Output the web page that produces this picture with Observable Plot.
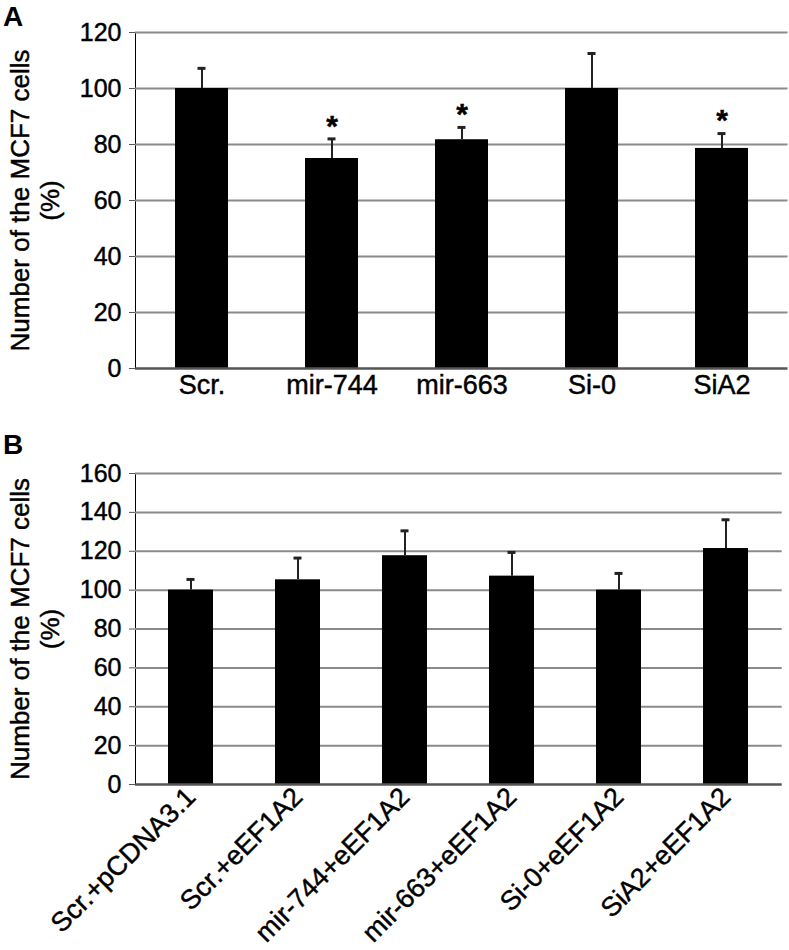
<!DOCTYPE html>
<html><head><meta charset="utf-8">
<script src="https://cdn.jsdelivr.net/npm/d3@7"></script>
<script src="https://cdn.jsdelivr.net/npm/@observablehq/plot@0.6"></script>
<style>
body{margin:0;background:#fff;}
#wrap{position:relative;width:789px;height:950px;font-family:"Liberation Sans",Arial,sans-serif;overflow:hidden;}
.panel{position:absolute;left:0;}
.letter{position:absolute;font-weight:bold;font-size:28px;line-height:1;}
svg text{stroke:#000;stroke-width:0.45px;}
</style></head><body>
<div id="wrap">
<div id="pa" class="panel" style="top:0"></div>
<div id="pb" class="panel" style="top:432px"></div>
<div class="letter" style="left:3px;top:3px">A</div>
<div class="letter" style="left:3px;top:431px">B</div>
</div>
<script>
const catsA = ["Scr.", "mir-744", "mir-663", "Si-0", "SiA2"];
const meansA = [100, 75, 81.7, 100, 78.6];
const errTopA = [107.2, 82, 86.1, 112.5, 83.9];
const starA = [false, true, true, false, true];
const yTicksA = [0, 20, 40, 60, 80, 100, 120];

const catsB = ["Scr.+pCDNA3.1", "Scr.+eEF1A2", "mir-744+eEF1A2", "mir-663+eEF1A2", "Si-0+eEF1A2", "SiA2+eEF1A2"];
const meansB = [100, 105.3, 117.7, 107.2, 100, 121.4];
const errTopB = [105.5, 116.5, 130.5, 119.4, 108.6, 136.2];
const yTicksB = [0, 20, 40, 60, 80, 100, 120, 140, 160];

const yLabel1 = "Number of the MCF7 cells";
const yLabel2 = "(%)";

const FONT = "'Liberation Sans', Arial, sans-serif";
const GRID = "#8a8a8a";

function panel(cats, means, errs, stars, yTicks, opts) {
  const data = cats.map((c, i) => ({cat: c, mean: means[i], err: errs[i], star: stars ? stars[i] : false}));
  return Plot.plot({
    width: 789,
    height: opts.height,
    marginLeft: 135,
    marginRight: opts.marginRight,
    marginTop: opts.marginTop,
    marginBottom: opts.marginBottom,
    style: {fontFamily: FONT, fontSize: "25px", color: "#000", background: "#fff", overflow: "visible"},
    x: {domain: cats, paddingInner: opts.padInner, paddingOuter: opts.padInner / 2, align: 0.5,
        tickSize: 0, tickPadding: opts.xTickPadding, tickRotate: opts.tickRotate || 0, label: null},
    y: {domain: [yTicks[0], yTicks[yTicks.length - 1]], ticks: yTicks, tickSize: 6, tickPadding: 8,
        label: null, line: true, tickFormat: d => String(d)},
    marks: [
      Plot.ruleY(yTicks.slice(1), {stroke: GRID, strokeWidth: 2}),
      Plot.barY(data, {x: "cat", y: "mean", fill: "#000"}),
      Plot.ruleX(data, {x: "cat", y1: "mean", y2: "err", stroke: "#222", strokeWidth: 2}),
      Plot.tickY(data, {x: "cat", y: "err", stroke: "#222", strokeWidth: 3, insetLeft: opts.capInset, insetRight: opts.capInset}),
      Plot.text(data.filter(d => d.star), {x: "cat", y: "err", text: () => "*", fontSize: 30, fontWeight: "bold", dy: -13, fill: "#000"}),
      Plot.ruleY([0], {stroke: "#555", strokeWidth: 2.5}),
      Plot.text([yLabel1], {frameAnchor: "left", textAnchor: "middle", rotate: -90, dx: -115, fontSize: 26, fill: "#000"}),
      Plot.text([yLabel2], {frameAnchor: "left", textAnchor: "middle", rotate: -90, dx: -85, fontSize: 26, fill: "#000"})
    ]
  });
}

const a = panel(catsA, meansA, errTopA, starA, yTicksA, {
  height: 400, marginTop: 32, marginBottom: 32, marginRight: 1.5, padInner: 0.594,
  xTickPadding: 6, capInset: 22.5
});
const b = panel(catsB, meansB, errTopB, null, yTicksB, {
  height: 518, marginTop: 41, marginBottom: 166, marginRight: 7.3, padInner: 0.582,
  xTickPadding: 8, capInset: 18.5, tickRotate: -45
});
for (const svg of [a, b]) {
  svg.querySelectorAll("[aria-label='x-axis tick label'] text, g[aria-label='x-axis'] text").forEach(t => t.setAttribute("font-size", "27"));
  svg.querySelectorAll("[aria-label^='y-axis'] path, [aria-label^='y-axis'] line").forEach(p => p.setAttribute("stroke", "#555"));
}
document.getElementById("pa").appendChild(a);
document.getElementById("pb").appendChild(b);
</script>
</body></html>
